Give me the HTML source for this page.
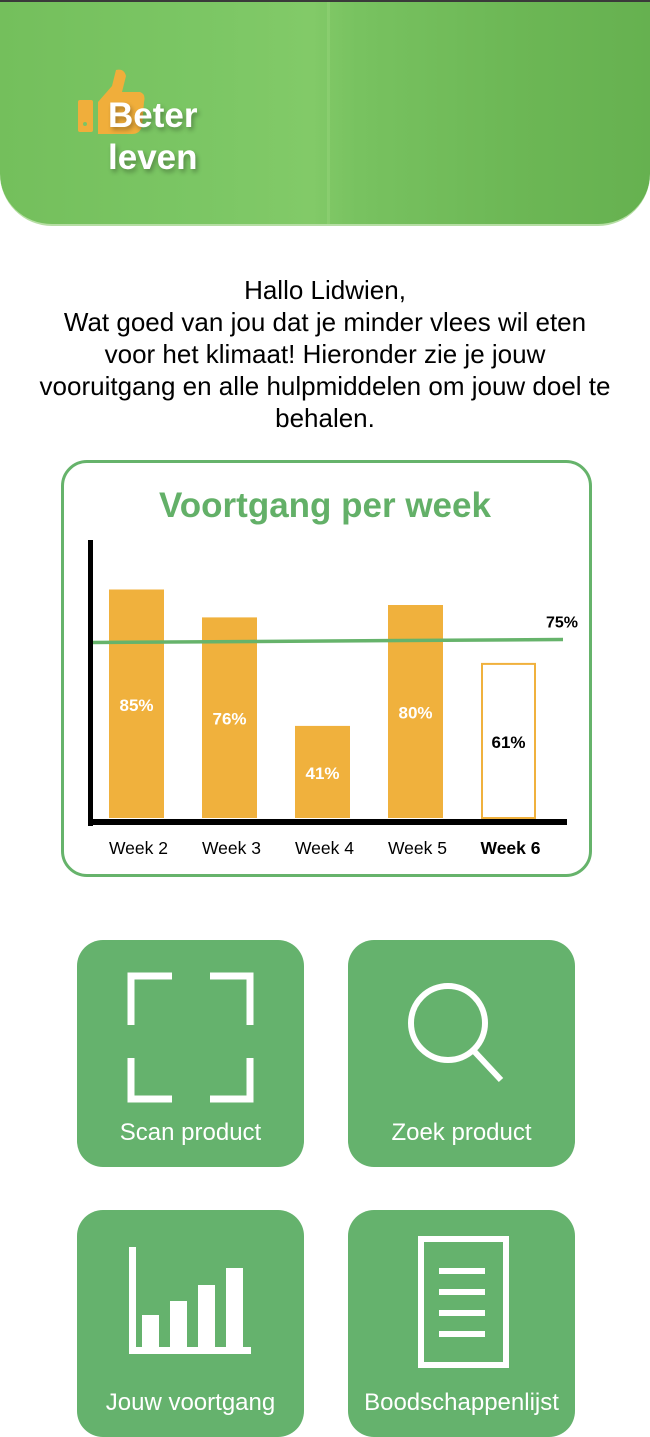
<!DOCTYPE html>
<html><head><meta charset="utf-8">
<style>
*{margin:0;padding:0;box-sizing:border-box}
body{width:650px;height:1416px;overflow:hidden;background:#fff;font-family:"Liberation Sans",Arial,sans-serif;position:relative}
#header{position:absolute;left:0;top:0;width:650px;height:226px;border-radius:0 0 52px 52px;overflow:hidden;
background:linear-gradient(90deg,#74bf5c 0%,#7bc664 30%,#82ca68 48%,#78c260 55%,#6cb755 80%,#66b150 100%);border-top:2px solid #3a3a3a;border-bottom:2px solid #b6dea4}
#header .stripe{position:absolute;left:327px;top:0;width:3px;height:226px;background:rgba(200,240,170,.15)}
#logo-text{position:absolute;left:108px;top:93px;font-weight:bold;font-size:35px;line-height:42px;color:#fff;text-shadow:2px 3px 5px rgba(0,0,0,.3)}
#greeting{position:absolute;left:0;top:274px;width:650px;text-align:center;font-size:26px;line-height:32px;color:#000}
#card{position:absolute;left:61px;top:460px;width:531px;height:417px;border:3px solid #66b36b;border-radius:26px}
#card-title{position:absolute;left:0;top:486px;width:650px;text-align:center;font-weight:bold;font-size:35px;color:#63b068}
.tile{position:absolute;width:227px;height:227px;background:#65b26d;border-radius:26px;color:#fff;font-size:24px;text-align:center}
.tile span{position:absolute;left:0;width:100%;top:179px}
svg text{font-family:"Liberation Sans",Arial,sans-serif}
</style></head><body>
<div id="header">
 <div class="stripe"></div>
 <svg style="position:absolute;left:76px;top:66px" width="72" height="72">
  <rect x="2" y="32" width="15" height="32" rx="2" fill="#f0ae3b"/>
  <circle cx="9" cy="56" r="2" fill="#7cc464"/>
  <path d="M22 34 L36 18 L40 2 Q48 0 50 8 L46 24 L64 24 Q70 26 68 34 L66 58 Q64 66 56 66 L22 66 Z" fill="#f0ae3b"/>
 </svg>
 <div id="logo-text">Beter<br>leven</div>
</div>
<div id="greeting">Hallo Lidwien,<br>Wat goed van jou dat je minder vlees wil eten<br>voor het klimaat! Hieronder zie je jouw<br>vooruitgang en alle hulpmiddelen om jouw doel te<br>behalen.</div>
<div id="card"></div>
<div id="card-title">Voortgang per week</div>
<svg id="chart" style="position:absolute;left:0;top:0" width="650" height="900"></svg>

<div class="tile" style="left:77px;top:940px">
 <svg width="227" height="170" style="position:absolute;left:0;top:0">
  <g fill="none" stroke="#fff" stroke-width="7">
   <path d="M54 85 V36 H95"/><path d="M133 36 H173 V85"/><path d="M54 118 V159 H95"/><path d="M133 159 H173 V118"/>
  </g></svg>
 <span>Scan product</span></div>
<div class="tile" style="left:348px;top:940px">
 <svg width="227" height="170" style="position:absolute;left:0;top:0">
  <circle cx="100" cy="83" r="37" fill="none" stroke="#fff" stroke-width="6"/>
  <line x1="125" y1="110" x2="153" y2="140" stroke="#fff" stroke-width="6"/></svg>
 <span>Zoek product</span></div>
<div class="tile" style="left:77px;top:1210px">
 <svg width="227" height="170" style="position:absolute;left:0;top:0">
  <g fill="#fff"><rect x="52" y="37" width="7" height="106"/><rect x="52" y="137" width="122" height="7"/>
  <rect x="65" y="105" width="17" height="34"/><rect x="93" y="91" width="17" height="48"/><rect x="121" y="75" width="17" height="64"/><rect x="149" y="58" width="17" height="81"/></g></svg>
 <span>Jouw voortgang</span></div>
<div class="tile" style="left:348px;top:1210px">
 <svg width="227" height="170" style="position:absolute;left:0;top:0">
  <rect x="73" y="29" width="85" height="126" fill="none" stroke="#fff" stroke-width="6"/>
  <g fill="#fff"><rect x="91" y="58" width="46" height="6"/><rect x="91" y="79" width="46" height="6"/><rect x="91" y="100" width="46" height="6"/><rect x="91" y="121" width="46" height="6"/></g></svg>
 <span>Boodschappenlijst</span></div>

<script>
const categories=["Week 2","Week 3","Week 4","Week 5","Week 6"];
const values=[85,76,41,80,61];
const target=75;
const svg=document.getElementById('chart');
const NS='http://www.w3.org/2000/svg';
const base=818, x0=109, step=93, bw=55;
function y(v){return base-(3.1*v-35);}
function mk(t,a){const e=document.createElementNS(NS,t);for(const k in a)e.setAttribute(k,a[k]);svg.appendChild(e);return e;}
values.forEach((v,i)=>{
 const last=i===values.length-1;
 const r=mk('rect',{x:x0+i*step+(last?1:0),y:y(v),width:bw-(last?2:0),height:base-y(v),fill:last?'#fff':'#f0b13d',stroke:last?'#f0b13d':'none','stroke-width':2});
 
 
 const ty=(y(v)+base)/2+7;
 const t=mk('text',{x:x0+i*step+bw/2,y:ty,'text-anchor':'middle','font-size':17,'font-weight':'bold',fill:last?'#000':'#fff'});
 t.textContent=v+'%';
 
 
 const c=mk('text',{x:x0+i*step+bw/2+2,y:854,'text-anchor':'middle','font-size':17.5,'font-weight':last?'bold':'normal',fill:'#000'});
 c.textContent=categories[i];
 
 
});
const ty=y(target)+20;
const l=mk('line',{x1:91,y1:ty+2,x2:563,y2:ty-1,stroke:'#66b36b','stroke-width':3.5});


const lt=mk('text',{x:546,y:ty-13,'font-size':16,'font-weight':'bold',fill:'#000'});
lt.textContent=target+'%';


const ya=mk('rect',{x:88,y:540,width:5,height:286,fill:'#000'});


const xa=mk('rect',{x:88,y:819,width:479,height:6,fill:'#000'});


</script>
</body></html>
